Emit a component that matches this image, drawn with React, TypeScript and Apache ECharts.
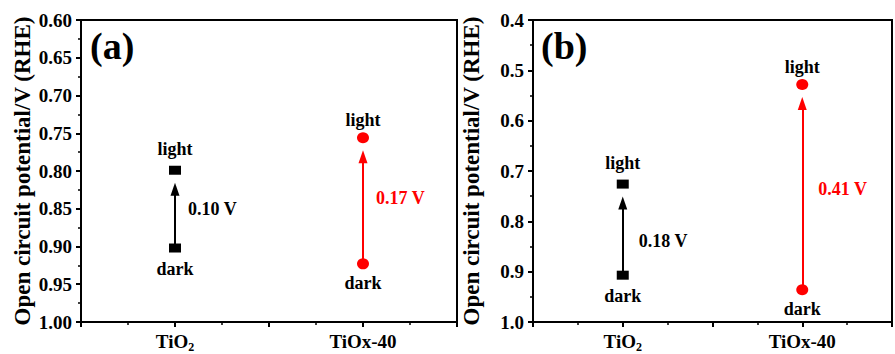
import React, { useEffect, useRef } from 'react';
import * as echarts from 'echarts';

// ---------- data ----------
const categories = ['TiO2', 'TiOx-40'];

// panel (a)
const yTicksA = [0.6, 0.65, 0.7, 0.75, 0.8, 0.85, 0.9, 0.95, 1.0];
const darkA = [0.902, 0.923];
const lightA = [0.799, 0.756];
const diffA = ['0.10 V', '0.17 V'];

// panel (b)
const yTicksB = [0.4, 0.5, 0.6, 0.7, 0.8, 0.9, 1.0];
const darkB = [0.907, 0.936];
const lightB = [0.726, 0.528];
const diffB = ['0.18 V', '0.41 V'];

const panelLetters = ['(a)', '(b)'];
const yName = 'Open circuit potential/V (RHE)';

// ---------- styles / layout ----------
const FONT = 'Liberation Serif';
const sampleColors = ['#000000', '#ff0000'];
const sampleSymbols = ['rect', 'circle'];
const sampleSymbolSizes: any[] = [[12, 9], [12, 11]];
const lightLabelDist = [8, 3];
const darkLabelDist = [7, 5];
const grids = [
  { left: 81, top: 20, width: 376, height: 302 },
  { left: 533, top: 20, width: 374, height: 302 },
];
const nameGaps = [47, 50];
const diffDx = [13, 16];
const diffDy = [[0, -3], [11, 2]];
const arrowGapPx = 19;

const panels = [
  { ticks: yTicksA, dark: darkA, light: lightA, diff: diffA, dec: 2 },
  { ticks: yTicksB, dark: darkB, light: lightB, diff: diffB, dec: 1 },
];

const catX = (i: number) => 1 + 2 * i;

function labelFor(v: number) {
  const idx = (v - 1) / 2;
  if (Number.isInteger(idx) && idx >= 0 && idx < categories.length) {
    const c = categories[idx];
    const m = c.match(/^(.*[A-Za-z])(\d+)$/);
    if (m) return `{m|${m[1]}}{s|${m[2]}}`;
    return `{m|${c}}`;
  }
  return '';
}

function buildOption() {
  const xAxis: any[] = [];
  const yAxis: any[] = [];
  const series: any[] = [];

  panels.forEach((p, pi) => {
    const min = p.ticks[0];
    const max = p.ticks[p.ticks.length - 1];
    const interval = +(p.ticks[1] - p.ticks[0]).toFixed(4);
    xAxis.push({
      type: 'value',
      gridIndex: pi,
      min: 0,
      max: 4,
      interval: 1,
      axisLine: { show: true, onZero: false, lineStyle: { color: '#000', width: 2 } },
      axisTick: { show: true, inside: false, length: 5, lineStyle: { color: '#000', width: 2 } },
      minorTick: { show: true, splitNumber: 2, length: 3, lineStyle: { color: '#000', width: 1.5 } },
      splitLine: { show: false },
      minorSplitLine: { show: false },
      axisLabel: {
        margin: 7,
        formatter: (v: number) => labelFor(v),
        rich: {
          m: { fontSize: 19, fontWeight: 'bold', fontFamily: FONT, color: '#000', lineHeight: 24 },
          s: { fontSize: 12, fontWeight: 'bold', fontFamily: FONT, color: '#000', lineHeight: 12, padding: [12, 0, 0, 0] },
        },
      },
    });
    yAxis.push({
      type: 'value',
      gridIndex: pi,
      inverse: true,
      min,
      max,
      interval,
      name: yName,
      nameLocation: 'middle',
      nameGap: nameGaps[pi],
      nameTextStyle: { fontSize: 23, fontWeight: 'bold', fontFamily: FONT, color: '#000' },
      axisLine: { show: true, lineStyle: { color: '#000', width: 2 } },
      axisTick: { show: true, inside: false, length: 5, lineStyle: { color: '#000', width: 2 } },
      minorTick: { show: true, splitNumber: 2, length: 3, lineStyle: { color: '#000', width: 1.5 } },
      splitLine: { show: false },
      axisLabel: {
        margin: 9,
        fontSize: 19,
        fontWeight: 'bold',
        fontFamily: FONT,
        color: '#000',
        formatter: (v: number) => v.toFixed(p.dec),
      },
    });

    const gapVal = (arrowGapPx * (max - min)) / grids[pi].height;

    // arrows
    series.push({
      type: 'lines',
      coordinateSystem: 'cartesian2d',
      xAxisIndex: pi,
      yAxisIndex: pi,
      z: 1,
      symbol: ['none', 'triangle'],
      symbolSize: [0, [9, 13]],
      lineStyle: { width: 2, opacity: 1, curveness: 0 },
      data: categories.map((c, i) => ({
        coords: [
          [catX(i), p.dark[i]],
          [catX(i), p.light[i] + gapVal],
        ],
        lineStyle: { color: sampleColors[i], width: 2, opacity: 1 },
      })),
    });

    // markers with light/dark labels
    categories.forEach((c, i) => {
      series.push({
        type: 'scatter',
        xAxisIndex: pi,
        yAxisIndex: pi,
        z: 3,
        symbol: sampleSymbols[i],
        symbolSize: sampleSymbolSizes[i],
        itemStyle: { color: sampleColors[i], opacity: 1 },
        label: {
          show: true,
          fontSize: 18,
          fontWeight: 'bold',
          fontFamily: FONT,
          color: '#000',
        },
        data: [
          {
            value: [catX(i), p.dark[i]],
            label: { position: 'bottom', distance: darkLabelDist[i], formatter: 'dark' },
          },
          {
            value: [catX(i), p.light[i]],
            label: { position: 'top', distance: lightLabelDist[i], formatter: 'light' },
          },
        ],
      });
      // difference label
      series.push({
        type: 'scatter',
        xAxisIndex: pi,
        yAxisIndex: pi,
        z: 3,
        symbolSize: 0,
        itemStyle: { color: sampleColors[i], opacity: 1 },
        label: {
          show: true,
          position: 'right',
          distance: diffDx[pi],
          offset: [0, diffDy[pi][i]],
          fontSize: 18,
          fontWeight: 'bold',
          fontFamily: FONT,
          color: sampleColors[i],
          opacity: 1,
          formatter: p.diff[i],
        },
        data: [[catX(i), (p.dark[i] + p.light[i]) / 2]],
      });
    });
  });

  return {
    animation: false,
    backgroundColor: '#ffffff',
    grid: grids.map((g) => ({
      ...g,
      show: true,
      borderColor: '#000',
      borderWidth: 2,
      backgroundColor: 'transparent',
    })),
    xAxis,
    yAxis,
    series,
    graphic: panelLetters.map((t, pi) => ({
      type: 'text',
      left: grids[pi].left + (pi === 0 ? 9 : 8),
      top: 27,
      style: {
        text: t,
        fontSize: 38,
        fontWeight: 'bold',
        fontFamily: FONT,
        fill: '#000',
      },
    })),
  };
}

export default function App() {
  const ref = useRef<HTMLDivElement>(null);
  useEffect(() => {
    if (!ref.current) return;
    const chart = echarts.init(ref.current, undefined, { renderer: 'svg' });
    chart.setOption(buildOption() as any);
    return () => chart.dispose();
  }, []);
  return (
    <div
      ref={ref}
      style={{ position: 'fixed', left: 0, top: 0, width: 895, height: 354, background: '#fff' }}
    />
  );
}
